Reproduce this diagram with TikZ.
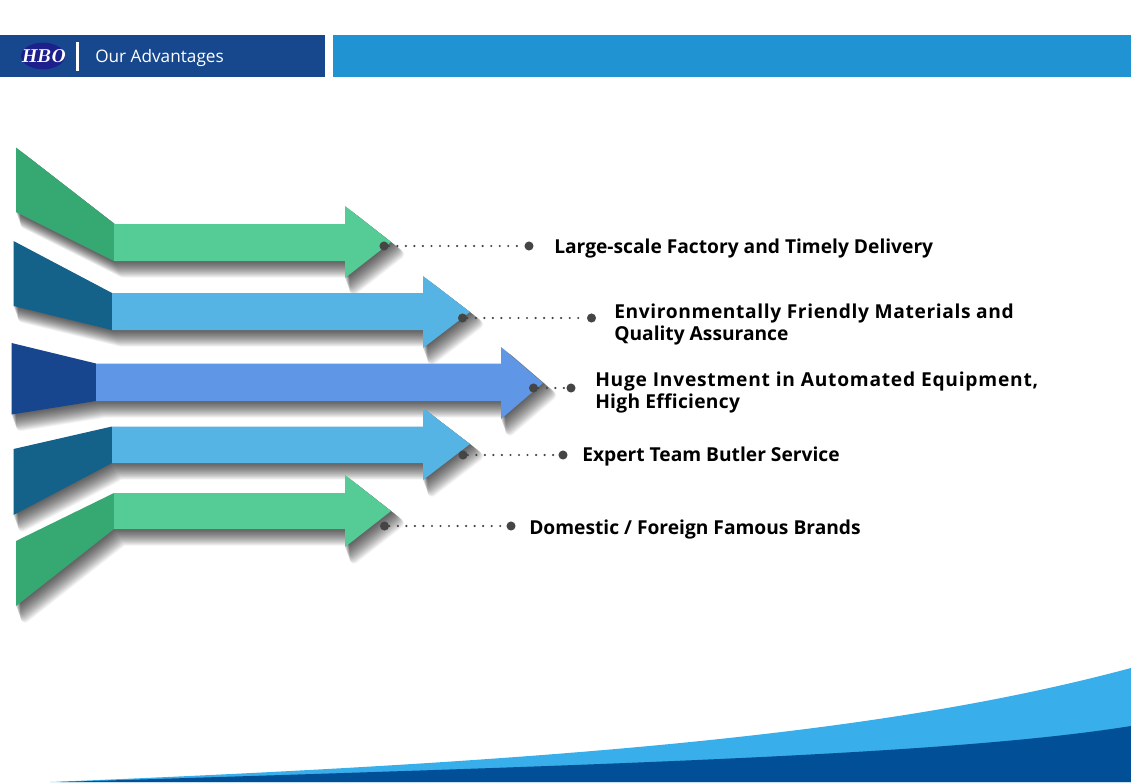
\documentclass[tikz,border=0pt]{standalone}
\usepackage{fontspec}
\setmainfont{Open Sans}
\newfontfamily\widea[LetterSpace=3.2,Ligatures=NoCommon]{Open Sans}
\newfontfamily\wideb[LetterSpace=4,Ligatures=NoCommon]{Open Sans}
\newfontfamily\widec[LetterSpace=1.5,Ligatures=NoCommon]{Open Sans}
\usetikzlibrary{calc,shapes.geometric}
\definecolor{hdark}{HTML}{17488E}
\definecolor{hlight}{HTML}{2094D2}
\definecolor{logoblue}{HTML}{1C1F8C}
\definecolor{greenbody}{HTML}{55CB95}
\definecolor{greentail}{HTML}{36A872}
\definecolor{bluebody}{HTML}{55B4E4}
\definecolor{bluetail}{HTML}{14618A}
\definecolor{midbody}{HTML}{5F96E6}
\definecolor{midtail}{HTML}{17468F}
\definecolor{wavelight}{HTML}{38AEEA}
\definecolor{wavedark}{HTML}{004F97}
\definecolor{dotgray}{HTML}{454545}
\tikzset{
  x=0.75pt,y=-0.75pt,
  dotnode/.style={circle,fill=dotgray,inner sep=0pt,minimum size=6.8pt},
  dotline/.style={draw=dotgray,line width=1.8pt,line cap=round,dash pattern=on 0pt off 6.4pt},
  label/.style={anchor=west,align=left,inner sep=0pt,font=\bfseries\fontsize{14.4pt}{17pt}\selectfont,text=black},
}
\newcommand{\softshadow}[1]{%
  \foreach \k in {20,19,...,1}{%
    \begin{scope}[transparency group,opacity=.042]
      \path[fill=black,draw=black,line join=round,line width=\k*0.32pt,shift={(\k*0.45,\k*0.62)}] #1;
    \end{scope}}%
}
% #1 tail pts, #2 body pts, #3 tail colour, #4 body colour
\newcommand{\bigarrow}[4]{%
  \softshadow{#1 -- cycle #2 -- cycle}
  \fill[#3] #1 -- cycle;
  \fill[#4] #2 -- cycle;
}
\begin{document}
\begin{tikzpicture}
\useasboundingbox (0,0) rectangle (1131,782);
\fill[white] (0,0) rectangle (1131,782);
% header
\fill[hdark] (0,35) rectangle (325,77);
\fill[hlight] (333,35) rectangle (1131,77);
\node[ellipse,fill=logoblue,minimum width=33pt,minimum height=20pt,inner sep=0pt] (logo) at (43,56) {};
\node[text=white,xscale=1.05,font=\fontfamily{lmr}\fontsize{14pt}{14pt}\selectfont\bfseries\itshape] (hbo) at (43,56.5) {HBO};
\fill[white] (76,42) rectangle (79,71);
\node[anchor=west,inner sep=0pt,text=white,font=\fontsize{12.9pt}{16pt}\selectfont] (title) at (95,58) {Our Advantages};
% waves
\fill[wavelight] (50,782) .. controls (600,760) and (900,730) .. (1131,668) -- (1131,782) -- cycle;
\fill[wavedark] (60,782) .. controls (600,765) and (950,755) .. (1131,726) -- (1131,782) -- cycle;
% arrows
\bigarrow{(16,147.5) -- (114,223.5) -- (114,261) -- (16,212)}
         {(114,224) -- (345,224) -- (345,206) -- (391,242) -- (345,278) -- (345,261) -- (114,261)}{greentail}{greenbody}
\bigarrow{(13.5,241) -- (112,293) -- (112,330) -- (13.5,306)}
         {(112,293) -- (423,293) -- (423,276) -- (470,312) -- (423,348) -- (423,330) -- (112,330)}{bluetail}{bluebody}
\bigarrow{(11.5,343) -- (96,363.5) -- (96,401) -- (11.5,414.5)}
         {(96,363.5) -- (501,363.5) -- (501,347) -- (543,383) -- (501,419) -- (501,401) -- (96,401)}{midtail}{midbody}
\bigarrow{(13.5,449) -- (112,426.5) -- (112,463) -- (13.5,515)}
         {(112,426.5) -- (423,426.5) -- (423,408) -- (470,444) -- (423,480) -- (423,463) -- (112,463)}{bluetail}{bluebody}
\bigarrow{(16,541) -- (114,493) -- (114,529) -- (16,606)}
         {(114,493) -- (345,493) -- (345,475) -- (391,511) -- (345,547) -- (345,529) -- (114,529)}{greentail}{greenbody}
% dots
\node[dotnode] (a1) at (384,246) {}; \node[dotnode] (b1) at (529,246) {};
\node[dotnode] (a2) at (462.5,318) {}; \node[dotnode] (b2) at (591.5,318) {};
\node[dotnode] (a3) at (533.5,388) {}; \node[dotnode] (b3) at (571,388) {};
\node[dotnode] (a4) at (463,455) {}; \node[dotnode] (b4) at (563,455) {};
\node[dotnode] (a5) at (384.5,526) {}; \node[dotnode] (b5) at (511,526) {};
\foreach \i in {1,...,5}{\draw[dotline] (a\i) -- (b\i);}
% labels
\node[label] (t1) at (554,249) {Large-scale Factory and Timely Delivery};
\node[label] (t2) at (614,324.5) {{\widea Environmentally Friendly Materials and}\\Quality Assurance};
\node[label] (t3) at (595,392.5) {{\wideb Huge Investment in Automated Equipment,}\\{\widec High Efficiency}};
\node[label] (t4) at (582,457) {Expert Team Butler Service};
\node[label] (t5) at (529,530) {Domestic / Foreign Famous Brands};
\end{tikzpicture}
\end{document}
